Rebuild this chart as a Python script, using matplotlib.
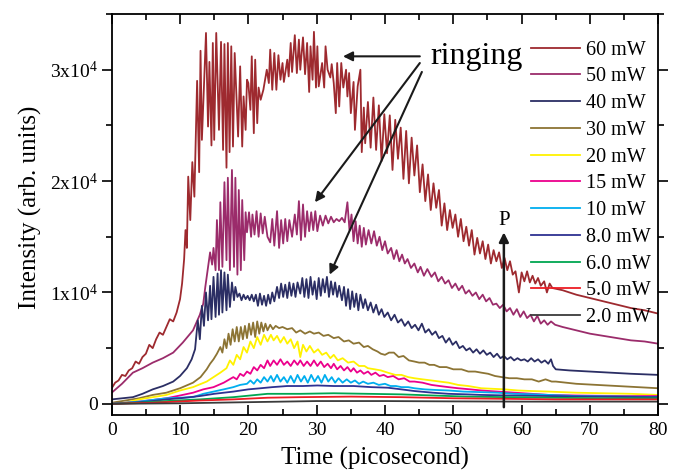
import numpy as np
import matplotlib.pyplot as plt
from matplotlib.ticker import MultipleLocator, FuncFormatter

plt.rcParams['font.family'] = ['Liberation Serif', 'DejaVu Serif']
plt.rcParams['mathtext.fontset'] = 'custom'
plt.rcParams['mathtext.rm'] = 'Liberation Serif'

# (time in ps, intensity in units of 1000 counts)
p60 = [(0, 1.4), (0.5, 1.9), (1, 2.1), (1.5, 2.6), (2, 2.5), (2.5, 3.0), (3, 3.2), (3.5, 3.8), (4, 3.6),
       (4.5, 4.2), (5, 4.5), (5.5, 5.3), (6, 5.0), (6.5, 5.8), (7, 6.4), (7.5, 6.2), (8, 6.9), (8.5, 7.6),
       (9, 7.4), (9.5, 8.2), (10, 9.4), (10.3, 10.8), (10.6, 13.0), (10.8, 15.6), (11.0, 14.0), (11.2, 20.4),
       (11.5, 16.5), (11.8, 21.7), (12.1, 18.6), (12.5, 29.0), (12.8, 20.8), (13.0, 31.7), (13.2, 23.7),
       (13.8, 33.3), (14.1, 24.9), (14.3, 30.7), (14.6, 23.2), (14.8, 32.4), (15.0, 23.7), (15.3, 33.3),
       (15.7, 24.6), (16.0, 32.5), (16.3, 22.8), (16.5, 32.3), (16.8, 21.2), (17.0, 32.4), (17.25, 22.6),
       (17.5, 32.1), (17.75, 23.1), (18.0, 31.5), (18.5, 24.0), (18.8, 30.3), (19.1, 23.1), (19.3, 27.6),
       (19.6, 24.6), (19.8, 29.1), (20.0, 28.8), (20.3, 26.4), (20.5, 31.2), (20.8, 24.3), (21.0, 30.9),
       (21.3, 25.2), (21.5, 28.4), (21.8, 27.3), (22.2, 28.2), (22.7, 30.0), (23.0, 28.8), (23.2, 31.8),
       (23.5, 28.2), (23.8, 31.5), (24.1, 28.2), (24.4, 31.3), (24.7, 29.1), (25.0, 30.6), (25.2, 28.9),
       (25.7, 30.9), (25.9, 29.4), (26.2, 32.4), (26.4, 29.8), (26.8, 33.1), (27.1, 29.7), (27.4, 32.7),
       (27.6, 30.0), (28.0, 32.9), (28.3, 29.6), (28.6, 32.4), (28.9, 28.0), (29.1, 32.1), (29.4, 29.1),
       (29.6, 33.4), (29.9, 28.4), (30.1, 32.1), (30.3, 28.5), (30.8, 30.6), (31.1, 28.4), (31.3, 32.1),
       (31.6, 30.0), (32.0, 29.3), (32.2, 30.5), (32.5, 28.8), (32.8, 26.1), (33.0, 30.6), (33.3, 26.7),
       (33.6, 30.6), (33.9, 28.4), (34.3, 30.0), (34.5, 27.6), (34.75, 29.7), (35.0, 26.1), (35.4, 28.9),
       (35.6, 24.6), (36.0, 28.5), (36.4, 30.0), (36.6, 22.6), (36.9, 26.6), (37.1, 23.4), (37.5, 27.1),
       (37.9, 23.0), (38.3, 27.5), (38.7, 22.8), (39.1, 26.8), (39.5, 21.8), (39.9, 26.0), (40.3, 22.5),
       (40.7, 25.9), (41.1, 21.0), (41.5, 25.5), (41.9, 22.0), (42.3, 24.8), (42.7, 20.2), (43.1, 24.5),
       (43.5, 19.8), (43.9, 23.9), (44.3, 20.5), (44.7, 23.2), (45.1, 19.0), (45.5, 21.5), (45.9, 18.2),
       (46.3, 20.6), (46.7, 17.4), (47.1, 19.8), (47.5, 17.6), (47.9, 19.2), (48.3, 16.0), (48.7, 18.0),
       (49.1, 15.6), (49.5, 17.4), (49.9, 15.8), (50.3, 17.0), (50.7, 15.0), (51.1, 16.6), (51.5, 14.6),
       (51.9, 15.9), (52.3, 14.2), (52.7, 15.6), (53.1, 13.4), (53.5, 14.9), (53.9, 13.5), (54.3, 14.6),
       (54.7, 13.0), (55.1, 14.3), (55.5, 12.6), (55.9, 13.8), (56.3, 12.8), (56.7, 13.6), (57.1, 12.2),
       (57.5, 13.1), (57.9, 12.0), (58.3, 12.8), (58.7, 11.6), (59.1, 11.9), (59.6, 10.0), (60.0, 11.8),
       (60.4, 11.0), (60.8, 11.9), (61.2, 10.9), (61.6, 11.5), (62.0, 10.8), (62.4, 11.3), (62.8, 10.6),
       (63.3, 11.0), (63.7, 10.0), (64.1, 10.8), (64.5, 10.4), (66, 10.2), (68, 9.8), (70, 9.5), (72, 9.2),
       (74, 8.9), (76, 8.6), (78, 8.4), (80, 8.1)]

p50 = [(0, 1.0), (1.5, 1.8), (3.1, 2.8), (4.5, 3.2), (6, 3.7), (7.5, 4.1), (9, 4.6), (10.4, 5.5), (11.9, 6.6),
       (12.9, 8.0), (13.4, 9.0), (13.7, 10.5), (14.1, 12.3), (14.4, 13.6), (14.7, 12.5), (14.9, 14.0),
       (15.2, 12.0), (15.4, 16.5), (15.7, 12.0), (15.9, 18.1), (16.2, 12.3), (16.5, 19.9), (16.8, 12.9),
       (17.0, 20.3), (17.3, 12.0), (17.6, 21.0), (17.9, 12.3), (18.1, 20.3), (18.4, 11.6), (18.6, 19.2),
       (18.9, 12.0), (19.1, 18.3), (19.4, 12.9), (19.6, 17.2), (19.8, 15.4), (20.1, 17.2), (20.4, 15.0),
       (20.6, 17.0), (20.9, 15.2), (21.2, 17.3), (21.5, 15.0), (21.8, 17.1), (22.1, 15.3), (22.4, 16.8),
       (22.8, 15.0), (23.2, 14.5), (23.5, 16.6), (23.8, 14.2), (24.2, 17.3), (24.5, 14.0), (24.8, 16.5),
       (25.1, 14.4), (25.4, 16.6), (25.7, 14.6), (26.0, 16.5), (26.4, 15.0), (26.8, 17.0), (27.1, 15.2),
       (27.4, 18.2), (27.7, 14.7), (28.0, 17.9), (28.3, 15.0), (28.6, 17.3), (28.9, 15.5), (29.2, 17.2),
       (29.5, 15.6), (29.8, 17.3), (30.1, 15.5), (30.5, 16.9), (30.9, 16.0), (31.3, 16.9), (31.7, 16.2),
       (32.1, 16.8), (32.5, 16.3), (32.9, 16.6), (33.3, 16.4), (33.7, 16.7), (34.1, 16.3), (34.5, 18.1),
       (34.8, 15.6), (35.1, 17.0), (35.4, 14.6), (35.7, 16.4), (36.0, 14.4), (36.3, 16.0), (36.6, 14.1),
       (36.9, 15.8), (37.2, 14.3), (37.6, 15.6), (38.0, 14.4), (38.4, 15.5), (38.8, 14.2), (39.2, 15.0),
       (39.6, 13.8), (40.0, 14.6), (40.4, 13.5), (40.9, 14.0), (41.3, 13.0), (41.7, 13.8), (42.1, 12.8),
       (42.5, 13.4), (42.9, 12.6), (43.3, 13.0), (43.8, 12.2), (44.3, 12.6), (44.8, 11.8), (45.2, 12.3),
       (45.7, 11.5), (46.2, 12.1), (46.8, 11.4), (47.3, 11.8), (47.8, 11.0), (48.3, 11.4), (48.8, 10.8),
       (49.3, 11.1), (49.8, 10.4), (50.3, 10.8), (50.8, 10.2), (51.3, 10.6), (51.8, 9.9), (52.3, 10.2),
       (52.8, 9.7), (53.3, 10.0), (53.8, 9.4), (54.3, 9.8), (54.8, 9.2), (55.3, 9.5), (55.8, 8.9), (56.3, 9.0),
       (56.8, 8.6), (57.3, 8.9), (57.8, 8.3), (58.3, 8.6), (58.8, 8.0), (59.3, 8.5), (59.8, 7.8), (60.3, 8.3),
       (60.8, 7.7), (61.3, 8.0), (61.8, 7.4), (62.3, 7.9), (62.8, 7.2), (63.3, 7.5), (63.8, 7.1), (64.3, 7.4),
       (64.9, 7.1), (66, 6.9), (68, 6.6), (70, 6.3), (72, 6.1), (74, 5.9), (76, 5.7), (78, 5.6), (80, 5.4)]

p40 = [(0, 0.4), (1.5, 0.5), (3.1, 0.6), (4.5, 0.9), (6, 1.3), (7.5, 1.6), (9, 2.0), (10, 2.5), (11, 3.2),
       (11.7, 4.0), (12.2, 4.9), (12.6, 7.5), (12.9, 5.8), (13.2, 8.8), (13.5, 7.0), (13.8, 10.0), (14.1, 7.5),
       (14.4, 10.6), (14.6, 7.6), (14.9, 11.4), (15.2, 7.8), (15.5, 11.7), (15.7, 8.0), (16.0, 12.0),
       (16.2, 8.2), (16.5, 11.8), (16.8, 8.4), (17.0, 11.6), (17.3, 8.7), (17.6, 10.9), (17.9, 9.3),
       (18.1, 10.5), (18.4, 9.6), (18.7, 9.9), (19.0, 9.3), (19.3, 9.8), (19.6, 9.4), (19.9, 9.7), (20.2, 9.3),
       (20.5, 9.8), (20.8, 9.2), (21.1, 9.8), (21.4, 8.8), (21.7, 9.9), (22.0, 8.9), (22.3, 9.7), (22.6, 8.8),
       (22.9, 9.8), (23.2, 9.0), (23.5, 10.0), (23.8, 9.2), (24.2, 10.5), (24.5, 9.5), (24.8, 10.8),
       (25.1, 9.6), (25.4, 10.7), (25.7, 9.5), (26.0, 10.9), (26.3, 9.7), (26.6, 10.8), (26.9, 9.6),
       (27.2, 10.9), (27.6, 9.9), (27.9, 11.3), (28.2, 9.6), (28.5, 11.2), (28.8, 9.5), (29.1, 11.4),
       (29.4, 9.8), (29.7, 11.0), (30.0, 9.4), (30.3, 11.3), (30.6, 9.7), (30.9, 11.2), (31.2, 10.0),
       (31.5, 11.4), (31.8, 9.6), (32.1, 11.0), (32.4, 9.8), (32.7, 10.9), (33.0, 9.6), (33.3, 10.6),
       (33.7, 9.3), (34.0, 10.5), (34.3, 8.8), (34.6, 10.3), (34.9, 8.5), (35.2, 10.1), (35.5, 8.7),
       (35.8, 9.9), (36.1, 8.4), (36.4, 9.8), (36.8, 8.6), (37.1, 9.4), (37.5, 8.4), (37.9, 9.1), (38.3, 8.2),
       (38.7, 8.9), (39.1, 8.0), (39.5, 8.5), (39.9, 7.8), (40.4, 8.2), (40.9, 7.5), (41.4, 8.0), (41.9, 7.3),
       (42.4, 7.6), (42.9, 7.0), (43.4, 7.4), (43.9, 6.8), (44.4, 7.1), (44.9, 6.6), (45.4, 7.2), (45.9, 6.4),
       (46.4, 6.7), (46.9, 6.2), (47.4, 6.5), (47.9, 5.9), (48.4, 6.1), (48.9, 5.5), (49.4, 5.9), (49.9, 5.3),
       (50.4, 5.6), (50.9, 5.0), (51.4, 5.2), (51.9, 4.8), (52.4, 5.0), (52.9, 4.6), (53.4, 4.9), (53.9, 4.5),
       (54.4, 4.8), (54.9, 4.4), (55.4, 4.6), (55.9, 4.2), (56.4, 4.5), (56.9, 4.1), (57.4, 4.3), (57.9, 4.0),
       (58.4, 4.2), (58.9, 3.9), (59.4, 4.1), (59.9, 3.9), (60.4, 4.0), (60.9, 3.8), (61.4, 4.1), (61.9, 3.8),
       (62.4, 4.0), (62.9, 3.7), (63.4, 3.9), (63.9, 3.6), (64.3, 4.0), (64.6, 3.4), (65.0, 3.1), (67, 3.0),
       (70, 2.9), (73, 2.8), (76, 2.7), (80, 2.6)]

p30 = [(0, 0.1), (2, 0.3), (4, 0.5), (6, 0.8), (8, 1.0), (10, 1.4), (11.9, 1.9), (13, 2.4), (13.9, 3.1),
       (14.4, 3.6), (14.9, 4.0), (15.4, 4.5), (15.9, 5.1), (16.2, 4.6), (16.5, 5.8), (16.8, 5.0), (17.1, 6.3),
       (17.4, 5.3), (17.7, 6.7), (18.0, 5.6), (18.3, 6.9), (18.6, 5.6), (18.9, 6.9), (19.2, 5.8), (19.5, 7.0),
       (19.8, 5.9), (20.1, 7.2), (20.4, 6.2), (20.7, 7.3), (21.0, 6.0), (21.3, 7.4), (21.6, 6.3), (21.9, 7.3),
       (22.2, 6.5), (22.5, 7.2), (22.8, 6.6), (23.2, 7.1), (23.6, 6.7), (24.0, 7.0), (24.5, 6.8), (25.0, 6.9),
       (25.7, 6.7), (26.4, 6.8), (27.0, 6.4), (27.6, 6.6), (28.3, 6.3), (29.0, 6.5), (29.6, 6.3), (30.3, 6.4),
       (31.0, 6.1), (31.7, 6.2), (32.5, 5.9), (33.2, 6.0), (34.0, 5.6), (34.7, 5.7), (35.4, 5.4), (36.2, 5.5),
       (36.9, 5.1), (37.5, 5.2), (38.2, 4.9), (38.9, 4.7), (39.4, 4.5), (40.0, 4.4), (40.6, 4.6), (41.3, 4.6),
       (42.0, 4.2), (42.7, 4.3), (43.5, 3.9), (44.3, 3.8), (45.0, 3.7), (45.8, 3.7), (46.5, 3.5), (47.2, 3.5),
       (48.0, 3.3), (49.0, 3.3), (50.0, 3.1), (51.2, 3.1), (52.2, 2.9), (53.2, 2.9), (54.1, 2.8), (55.1, 2.7),
       (56.1, 2.5), (57.1, 2.4), (58.2, 2.3), (59.3, 2.3), (60.4, 2.2), (61.5, 2.2), (62.5, 2.0), (63.5, 2.2),
       (64.4, 2.0), (65, 2.0), (68, 1.8), (71, 1.7), (74, 1.6), (77, 1.5), (80, 1.4)]

p20 = [(0, 0.0), (2, 0.1), (4, 0.4), (6, 0.6), (8, 0.8), (10, 1.2), (11.9, 1.5), (13.9, 2.0), (15.9, 2.8),
       (16.8, 3.2), (17.3, 3.9), (17.8, 3.5), (18.3, 4.4), (18.8, 4.0), (19.3, 5.1), (19.8, 4.6), (20.3, 5.6),
       (20.8, 5.0), (21.3, 6.0), (21.8, 5.3), (22.3, 6.2), (22.8, 5.6), (23.3, 6.2), (23.7, 5.7), (24.2, 6.1),
       (24.7, 5.5), (25.2, 6.0), (25.7, 5.4), (26.2, 5.8), (26.7, 5.0), (27.2, 5.6), (27.6, 4.2), (28.0, 5.3),
       (28.5, 4.7), (29.0, 5.2), (29.6, 4.6), (30.2, 4.9), (30.8, 4.4), (31.4, 4.6), (32.0, 4.1), (32.5, 4.4),
       (33.1, 3.9), (33.8, 4.1), (34.6, 3.7), (35.4, 3.8), (36.2, 3.4), (37.0, 3.4), (37.5, 3.2), (38.5, 3.1),
       (39.4, 3.0), (40.4, 2.8), (41.5, 2.6), (42.4, 2.6), (43.4, 2.4), (44.3, 2.3), (45.5, 2.2), (46.8, 2.1),
       (48.0, 2.0), (49.3, 1.9), (50.7, 1.7), (52.2, 1.6), (54.1, 1.4), (55.8, 1.35), (57.5, 1.3), (59.5, 1.2),
       (61.5, 1.15), (64, 1.1), (68, 1.0), (72, 0.95), (76, 0.9), (80, 0.8)]

p15 = [(0, 0.0), (2, 0.1), (4, 0.2), (6, 0.35), (8, 0.5), (10, 0.75), (11.9, 1.0), (13.4, 1.3), (14.9, 1.5),
       (16.4, 1.9), (17.8, 2.4), (18.3, 2.2), (18.8, 2.7), (19.3, 2.5), (19.8, 2.9), (20.3, 2.7), (20.8, 3.3),
       (21.3, 3.0), (21.8, 3.5), (22.3, 3.2), (22.8, 3.9), (23.2, 3.4), (23.7, 3.9), (24.2, 3.5), (24.7, 4.0),
       (25.2, 3.5), (25.7, 3.8), (26.2, 3.4), (26.7, 3.9), (27.2, 3.5), (27.6, 3.9), (28.1, 3.4), (28.6, 3.8),
       (29.1, 3.4), (29.6, 3.9), (30.1, 3.4), (30.6, 3.8), (31.1, 3.3), (31.6, 3.6), (32.1, 3.2), (32.5, 3.6),
       (33.0, 3.1), (33.5, 3.4), (34.0, 3.0), (34.5, 3.3), (35.0, 2.9), (35.4, 3.2), (35.9, 2.8), (36.4, 3.0),
       (36.9, 2.7), (37.5, 2.9), (38.0, 2.6), (38.6, 2.8), (39.2, 2.5), (39.8, 2.6), (40.4, 2.4), (41.2, 2.5),
       (42.0, 2.2), (42.8, 2.3), (43.6, 2.0), (44.3, 2.0), (45.5, 1.9), (46.8, 1.7), (48.0, 1.6), (49.3, 1.5),
       (50.7, 1.4), (52.5, 1.3), (54.1, 1.2), (56.5, 1.1), (59, 1.0), (61.5, 0.9), (64, 0.8), (68, 0.75),
       (72, 0.72), (76, 0.7), (80, 0.7)]

p10 = [(0, 0.0), (2, 0.1), (4, 0.2), (6, 0.35), (8, 0.5), (10, 0.55), (11.9, 0.6), (13.4, 0.9), (14.9, 1.1),
       (16.4, 1.3), (17.8, 1.5), (18.8, 1.7), (19.8, 1.8), (20.3, 2.1), (20.8, 1.8), (21.3, 2.2), (21.8, 1.9),
       (22.3, 2.4), (22.8, 2.0), (23.3, 2.5), (23.7, 2.0), (24.2, 2.6), (24.7, 2.0), (25.2, 2.4), (25.7, 1.9),
       (26.2, 2.5), (26.7, 1.9), (27.2, 2.6), (27.7, 2.0), (28.2, 2.5), (28.7, 1.9), (29.2, 2.6), (29.7, 2.0),
       (30.2, 2.5), (30.7, 1.9), (31.2, 2.6), (31.7, 2.0), (32.2, 2.4), (32.7, 1.9), (33.2, 2.3), (33.8, 1.9),
       (34.4, 2.2), (35.0, 1.9), (35.6, 2.1), (36.2, 1.8), (36.8, 2.0), (37.5, 1.8), (38.3, 1.9), (39.1, 1.7),
       (40.0, 1.8), (40.8, 1.6), (41.6, 1.6), (42.4, 1.5), (43.4, 1.5), (44.3, 1.4), (45.8, 1.3), (47.3, 1.25),
       (49.3, 1.2), (51.5, 1.1), (54.1, 1.05), (56.5, 1.0), (59, 0.9), (62, 0.85), (64, 0.8), (68, 0.7),
       (72, 0.68), (76, 0.65), (80, 0.6)]

p8 = [(0, 0.0), (3, 0.1), (6, 0.25), (8, 0.4), (10, 0.5), (12.9, 0.7), (15, 0.9), (17.8, 1.1), (20, 1.3),
      (21.8, 1.4), (23.5, 1.5), (25.7, 1.6), (28, 1.6), (30.1, 1.65), (32.5, 1.6), (35.4, 1.6), (38, 1.5),
      (40.4, 1.45), (42.4, 1.3), (44.3, 1.15), (47, 1.0), (49.3, 0.9), (52, 0.85), (54.1, 0.8), (58, 0.75),
      (64, 0.7), (70, 0.65), (75, 0.62), (80, 0.6)]

p6 = [(0, 0.0), (4, 0.1), (8, 0.25), (12.9, 0.4), (17.8, 0.6), (22.8, 0.9), (27.6, 0.9), (32.5, 0.95),
      (37.5, 0.9), (42.4, 0.85), (47, 0.75), (52, 0.65), (58, 0.6), (64, 0.55), (72, 0.5), (80, 0.5)]

p5 = [(0, 0.0), (6, 0.1), (12.9, 0.3), (17.8, 0.4), (22.8, 0.55), (27.6, 0.6), (35, 0.65), (42.4, 0.6),
      (50, 0.5), (58, 0.45), (65, 0.4), (80, 0.4)]

p2 = [(0, 0.0), (10, 0.05), (20, 0.15), (30, 0.25), (40, 0.25), (50, 0.22), (60, 0.2), (70, 0.2), (80, 0.2)]

labels = ['60 mW', '50 mW', '40 mW', '30 mW', '20 mW', '15 mW', '10 mW', '8.0 mW', '6.0 mW', '5.0 mW', '2.0 mW']
colors = ['#9e2a2f', '#9b2c6b', '#2b2e64', '#8c7434', '#fff200', '#ec008c', '#00aeef',
          '#2e3192', '#00a651', '#ed1c24', '#3a3a3a']
series = [p60, p50, p40, p30, p20, p15, p10, p8, p6, p5, p2]

fig = plt.figure(figsize=(6.82, 4.72), dpi=100)
ax = fig.add_axes([0.1638, 0.1208, 0.8014, 0.8495])

for pts, lab, col in zip(series, labels, colors):
    t, inten = zip(*pts)
    ax.plot(t, np.array(inten) * 1000, color=col, lw=1.3, label=lab)

ax.set_xlim(0, 80)
ax.set_ylim(-1000, 35000)

ax.xaxis.set_major_locator(MultipleLocator(10))
ax.xaxis.set_minor_locator(MultipleLocator(5))
ax.yaxis.set_major_locator(MultipleLocator(10000))
ax.yaxis.set_minor_locator(MultipleLocator(5000))


def yfmt(v, pos):
    if abs(v) < 1:
        return '0'
    return r'$\mathregular{%dx10^{4}}$' % round(v / 10000)


ax.yaxis.set_major_formatter(FuncFormatter(yfmt))
ax.tick_params(axis='x', which='both', direction='in', top=True, labelsize=14, pad=5, width=1.2)
ax.tick_params(axis='x', which='major', length=7)
ax.tick_params(axis='x', which='minor', length=4)
ax.tick_params(axis='y', which='both', direction='out', right=True, labelsize=14, pad=3, width=1.2)
ax.tick_params(axis='y', which='major', length=7)
ax.tick_params(axis='y', which='minor', length=4)
for s in ax.spines.values():
    s.set_linewidth(1.3)

ax.set_xlabel('Time (picosecond)', fontsize=18)
ax.set_ylabel('Intensity (arb. units)', fontsize=18)
ax.xaxis.set_label_coords(0.4817, -0.08)
ax.yaxis.set_label_coords(-0.128, 0.519)

ax.legend(loc='upper left', bbox_to_anchor=(0.7786, 0.9142), bbox_transform=fig.transFigure,
          frameon=False, fontsize=14.5, handlelength=2.44, handletextpad=0.3, labelspacing=0.38,
          borderpad=0, borderaxespad=0)

# annotations
ax.text(46.6, 31200, 'ringing', fontsize=23, ha='left', va='center')
arrow = dict(arrowstyle='-|>', color='#1a1a1a', lw=1.5, mutation_scale=14, shrinkA=0, shrinkB=0)
ax.annotate('', xy=(33.85, 31200), xytext=(45.1, 31200), arrowprops=arrow)
ax.annotate('', xy=(29.75, 18100), xytext=(45.1, 30600), arrowprops=arrow)
ax.annotate('', xy=(31.9, 11600), xytext=(45.4, 29800), arrowprops=arrow)
ax.annotate('', xy=(57.4, 15400), xytext=(57.4, -300),
            arrowprops=dict(arrowstyle='-|>', color='#1a1a1a', lw=1.8, mutation_scale=14,
                            shrinkA=0, shrinkB=0))
ax.text(57.4, 16500, 'P', fontsize=15, ha='center', va='center')

fig.savefig('out.png', dpi=100)
